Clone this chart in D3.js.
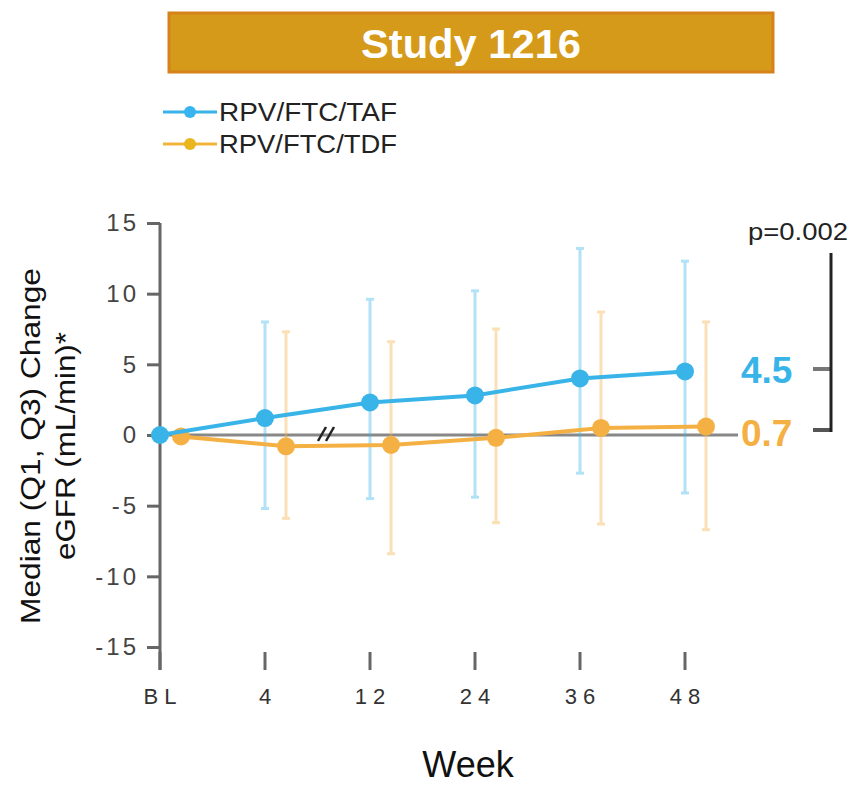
<!DOCTYPE html>
<html>
<head>
<meta charset="utf-8">
<script src="https://cdn.jsdelivr.net/npm/d3@7"></script>
<style>
  body { margin: 0; background: #fff; }
  svg { display: block; font-family: "Liberation Sans", Arial, sans-serif; }
</style>
</head>
<body>
<div id="chart"></div>
<script>
// week labels on the x axis
var weeks = ["BL", "4", "12", "24", "36", "48"];
var weekLabels = ["B L", "4", "1 2", "2 4", "3 6", "4 8"];
var yTicks = [15, 10, 5, 0, -5, -10, -15];

// RPV/FTC/TAF
var tafMedian = [0, 1.2, 2.3, 2.8, 4.0, 4.5];
var tafQ1 = [null, -5.2, -4.5, -4.4, -2.7, -4.1];
var tafQ3 = [null, 8.0, 9.6, 10.2, 13.2, 12.3];

// RPV/FTC/TDF
var tdfMedian = [-0.1, -0.8, -0.7, -0.2, 0.5, 0.6];
var tdfQ1 = [null, -5.9, -8.4, -6.2, -6.3, -6.7];
var tdfQ3 = [null, 7.3, 6.6, 7.5, 8.7, 8.0];

var blue = "#38b4e8", orange = "#f5b043";

var width = 853, height = 786;
var svg = d3.select("#chart").append("svg")
    .attr("width", width)
    .attr("height", height);

// title banner
svg.append("rect")
    .attr("x", 169).attr("y", 13)
    .attr("width", 604).attr("height", 59)
    .attr("fill", "#d69a1a")
    .attr("stroke", "#d5821a")
    .attr("stroke-width", 3);
svg.append("text")
    .attr("x", 471).attr("y", 58)
    .attr("text-anchor", "middle")
    .attr("fill", "#fff")
    .attr("textLength", 220)
    .attr("lengthAdjust", "spacingAndGlyphs")
    .style("font-size", "40px")
    .style("font-weight", "bold")
    .text("Study 1216");

// legend
var legend = [
  {name: "RPV/FTC/TAF", color: blue, dot: "#38b4f0"},
  {name: "RPV/FTC/TDF", color: "#f3b43a", dot: "#ebb520"}
];
legend.forEach(function(d, i) {
  var y = 112 + i * 32;
  svg.append("line")
      .attr("x1", 163).attr("x2", 217)
      .attr("y1", y).attr("y2", y)
      .attr("stroke", d.color).attr("stroke-width", 3);
  svg.append("circle")
      .attr("cx", 190).attr("cy", y).attr("r", 6)
      .attr("fill", d.dot);
  svg.append("text")
      .attr("x", 219).attr("y", y + 9)
      .attr("fill", "#222")
      .attr("textLength", 178)
      .attr("lengthAdjust", "spacingAndGlyphs")
      .style("font-size", "25px")
      .text(d.name);
});

// scales
var y = d3.scaleLinear().domain([-15, 15]).range([647, 223]);
var x = d3.scalePoint().domain(weeks).range([160, 685]);
var offset = 21;

// y axis
var yAxis = d3.axisLeft(y).tickValues(yTicks).tickSize(13).tickPadding(8)
    .tickFormat(function(d) { return String(d); });
var gy = svg.append("g").attr("transform", "translate(160,0)").call(yAxis);
gy.select(".domain").remove();
gy.selectAll(".tick line").attr("stroke", "#666").attr("stroke-width", 3);
gy.selectAll(".tick text")
    .attr("fill", "#444")
    .style("font-size", "24px")
    .style("letter-spacing", "3px")
    .style("font-family", "Liberation Sans, Arial, sans-serif");
svg.append("line")
    .attr("x1", 160).attr("x2", 160)
    .attr("y1", y(15)).attr("y2", 670)
    .attr("stroke", "#666").attr("stroke-width", 3);

// x axis ticks (vertical marks below plot)
var gx = svg.append("g");
gx.selectAll("line").data(weeks).enter().append("line")
    .attr("x1", function(d) { return x(d); })
    .attr("x2", function(d) { return x(d); })
    .attr("y1", 652).attr("y2", 670)
    .attr("stroke", "#666").attr("stroke-width", 3);
gx.selectAll("text").data(weeks).enter().append("text")
    .attr("x", function(d) { return x(d); })
    .attr("y", 704)
    .attr("text-anchor", "middle")
    .attr("fill", "#333")
    .style("font-size", "22px")
    .text(function(d, i) { return weekLabels[i]; });

// zero line
svg.append("line")
    .attr("x1", 160).attr("x2", 738)
    .attr("y1", y(0)).attr("y2", y(0))
    .attr("stroke", "#888").attr("stroke-width", 3);

// error bars
function errorBars(q1, q3, color, dx) {
  var g = svg.append("g").attr("opacity", 0.38);
  weeks.forEach(function(w, i) {
    if (q1[i] == null) return;
    var cx = x(w) + dx;
    g.append("line")
        .attr("x1", cx).attr("x2", cx)
        .attr("y1", y(q3[i])).attr("y2", y(q1[i]))
        .attr("stroke", color).attr("stroke-width", 3);
    [q1[i], q3[i]].forEach(function(v) {
      g.append("line")
          .attr("x1", cx - 4).attr("x2", cx + 4)
          .attr("y1", y(v)).attr("y2", y(v))
          .attr("stroke", color).attr("stroke-width", 3);
    });
  });
}
errorBars(tafQ1, tafQ3, blue, 0);
errorBars(tdfQ1, tdfQ3, orange, offset);

// series lines
function series(vals, color, dx) {
  var line = d3.line()
      .x(function(d, i) { return x(weeks[i]) + dx; })
      .y(function(d) { return y(d); });
  svg.append("path")
      .datum(vals)
      .attr("d", line)
      .attr("fill", "none")
      .attr("stroke", color)
      .attr("stroke-width", 4);
  svg.selectAll(null).data(vals).enter().append("circle")
      .attr("cx", function(d, i) { return x(weeks[i]) + dx; })
      .attr("cy", function(d) { return y(d); })
      .attr("r", 9)
      .attr("fill", color);
}
series(tdfMedian, orange, offset);
series(tafMedian, blue, 0);

// axis break mark
[318, 326].forEach(function(bx) {
  svg.append("line")
      .attr("x1", bx).attr("y1", 441)
      .attr("x2", bx + 8).attr("y2", 427)
      .attr("stroke", "#222").attr("stroke-width", 2.5);
});

// end value labels
svg.append("text")
    .attr("x", 741).attr("y", 383)
    .attr("fill", blue)
    .style("font-size", "37px").style("font-weight", "bold")
    .text("4.5");
svg.append("text")
    .attr("x", 741).attr("y", 446)
    .attr("fill", orange)
    .style("font-size", "37px").style("font-weight", "bold")
    .text("0.7");

// significance bracket
svg.append("line")
    .attr("x1", 813).attr("x2", 831).attr("y1", 369).attr("y2", 369)
    .attr("stroke", "#777").attr("stroke-width", 4);
svg.append("line")
    .attr("x1", 813).attr("x2", 831).attr("y1", 430).attr("y2", 430)
    .attr("stroke", "#555").attr("stroke-width", 4);
svg.append("line")
    .attr("x1", 831).attr("x2", 831).attr("y1", 253).attr("y2", 432)
    .attr("stroke", "#222").attr("stroke-width", 3);
svg.append("text")
    .attr("x", 748).attr("y", 240)
    .attr("fill", "#222")
    .attr("textLength", 100)
    .attr("lengthAdjust", "spacingAndGlyphs")
    .style("font-size", "24px")
    .text("p=0.002");

// y axis title
var yt = svg.append("text")
    .attr("transform", "translate(40,446) rotate(-90)")
    .attr("text-anchor", "middle")
    .attr("fill", "#111")
    .style("font-size", "28px");
yt.append("tspan").attr("x", 0).attr("dy", 0)
    .attr("textLength", 356).attr("lengthAdjust", "spacingAndGlyphs")
    .text("Median (Q1, Q3) Change");
yt.append("tspan").attr("x", 0).attr("dy", 35)
    .attr("textLength", 228).attr("lengthAdjust", "spacingAndGlyphs")
    .text("eGFR (mL/min)*");

// x axis title
svg.append("text")
    .attr("x", 468).attr("y", 777)
    .attr("text-anchor", "middle")
    .attr("fill", "#111")
    .style("font-size", "36px")
    .text("Week");
</script>
</body>
</html>
